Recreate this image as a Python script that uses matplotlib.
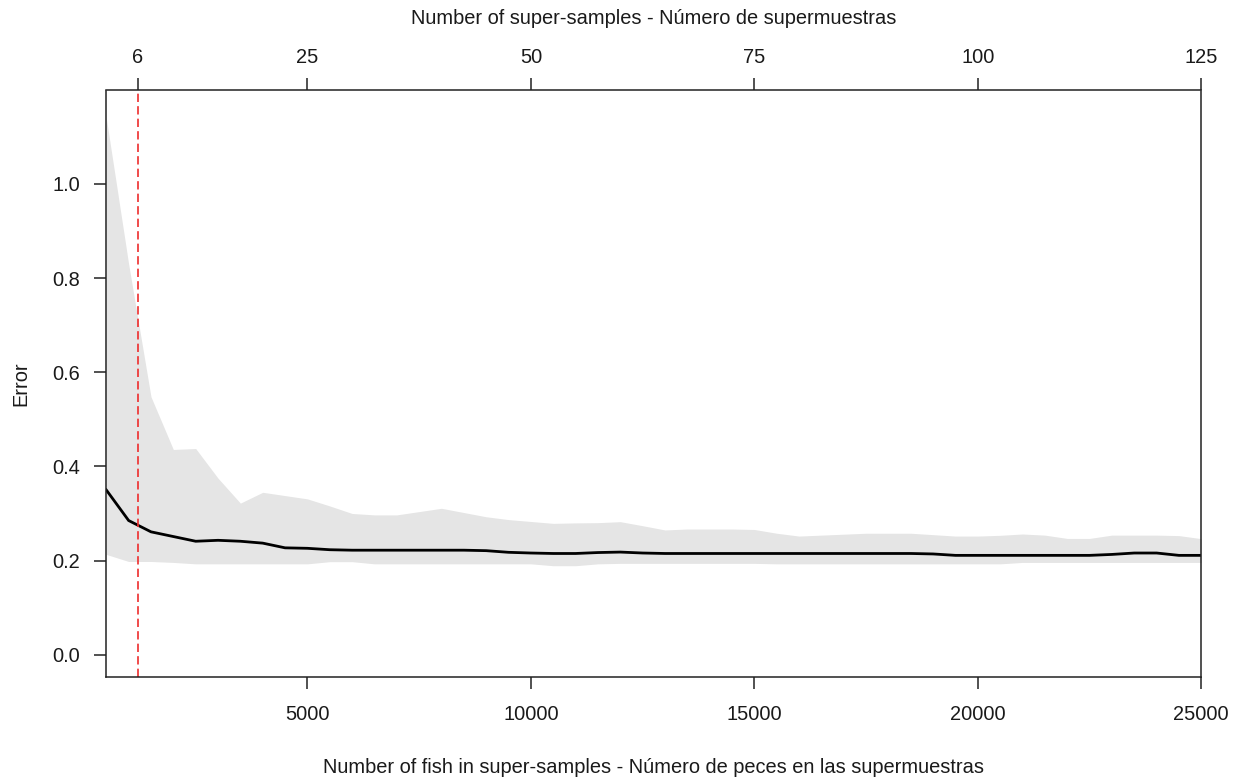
import numpy as np
import matplotlib.pyplot as plt

plt.rcParams['font.family'] = ['Liberation Sans', 'DejaVu Sans']

# number of fish pooled in the super-samples (200 fish per super-sample)
fish = [500, 1000, 1500, 2000, 2500, 3000, 3500, 4000, 4500, 5000,
        5500, 6000, 6500, 7000, 7500, 8000, 8500, 9000, 9500, 10000,
        10500, 11000, 11500, 12000, 12500, 13000, 13500, 14000, 14500, 15000,
        15500, 16000, 16500, 17000, 17500, 18000, 18500, 19000, 19500, 20000,
        20500, 21000, 21500, 22000, 22500, 23000, 23500, 24000, 24500, 25000]

err_mean = [0.350, 0.285, 0.261, 0.251, 0.241, 0.243, 0.241, 0.237, 0.227, 0.226,
            0.223, 0.222, 0.222, 0.222, 0.222, 0.222, 0.222, 0.221, 0.2175, 0.216,
            0.215, 0.215, 0.217, 0.218, 0.216, 0.215, 0.215, 0.215, 0.215, 0.215,
            0.215, 0.215, 0.215, 0.215, 0.215, 0.215, 0.215, 0.214, 0.211, 0.211,
            0.211, 0.211, 0.211, 0.211, 0.211, 0.213, 0.216, 0.216, 0.211, 0.211]

err_upper = [1.140, 0.830, 0.548, 0.436, 0.438, 0.375, 0.322, 0.345, 0.338, 0.331,
             0.316, 0.300, 0.297, 0.297, 0.304, 0.311, 0.302, 0.293, 0.287, 0.283,
             0.279, 0.280, 0.2805, 0.2826, 0.274, 0.265, 0.267, 0.267, 0.267, 0.266,
             0.258, 0.252, 0.254, 0.256, 0.258, 0.258, 0.258, 0.255, 0.252, 0.252,
             0.2536, 0.2564, 0.254, 0.247, 0.247, 0.254, 0.254, 0.254, 0.253, 0.2465]

err_lower = [0.213, 0.198, 0.198, 0.196, 0.193, 0.193, 0.193, 0.193, 0.193, 0.193,
             0.1976, 0.1976, 0.193, 0.193, 0.193, 0.193, 0.193, 0.193, 0.193, 0.193,
             0.189, 0.189, 0.193, 0.194, 0.194, 0.194, 0.194, 0.194, 0.194, 0.194,
             0.193, 0.193, 0.193, 0.193, 0.193, 0.193, 0.193, 0.193, 0.193, 0.193,
             0.193, 0.196, 0.196, 0.196, 0.196, 0.196, 0.196, 0.196, 0.196, 0.196]

fish_per_ss = 200
chosen_ss = 6
top_ticks = [6, 25, 50, 75, 100, 125]
bottom_ticks = [5000, 10000, 15000, 20000, 25000]
y_ticks = [0.0, 0.2, 0.4, 0.6, 0.8, 1.0]

W, H = 1238, 778
fig = plt.figure(figsize=(W / 100, H / 100), dpi=100)
ax = fig.add_axes([106.3 / W, 1 - 677 / H, (1201.3 - 106.3) / W, (677 - 90.5) / H])

ax.fill_between(fish, err_lower, err_upper, color='#e5e5e5', linewidth=0)
ax.plot(fish, err_mean, color='black', linewidth=2.0, solid_joinstyle='miter')
ax.axvline(chosen_ss * fish_per_ss, color='#ee2c2c', linewidth=1.2,
           linestyle=(0, (5, 2.5)))

ax.set_xlim(500, 25000)
ax.set_ylim(-0.0474, 1.1986)
ax.set_xticks(bottom_ticks)
ax.set_xticklabels([str(t) for t in bottom_ticks])
ax.set_yticks(y_ticks)
ax.set_yticklabels(['%.1f' % t for t in y_ticks])

for s in ax.spines.values():
    s.set_linewidth(1.1)
    s.set_color('#222222')
ax.spines['top'].set_visible(False)
ax.tick_params(axis='x', direction='out', length=8.6, width=1.1, color='#222222',
               pad=11.5, labelsize=14.4, labelcolor='#1a1a1a')
ax.tick_params(axis='y', direction='out', length=8.6, width=1.1, color='#222222',
               pad=10.3, labelsize=14.4, labelcolor='#1a1a1a')

# super-sample count on the top axis
top = ax.secondary_xaxis('top', functions=(lambda x: x / fish_per_ss,
                                           lambda n: n * fish_per_ss))
top.set_xticks(top_ticks)
top.set_xticklabels([str(t) for t in top_ticks])
top.spines['top'].set_linewidth(1.1)
top.spines['top'].set_color('#222222')
top.tick_params(direction='out', length=8.3, width=1.1, color='#222222',
                pad=8.7, labelsize=14.4, labelcolor='#1a1a1a')
top.set_xlabel('Number of super-samples - Número de supermuestras', fontsize=14.4,
               color='#1a1a1a', labelpad=17)

ax.set_xlabel('Number of fish in super-samples - Número de peces en las supermuestras',
              fontsize=14.4, color='#1a1a1a')
ax.xaxis.set_label_coords(0.5, -0.138)
ax.set_ylabel('Error', fontsize=14.4, color='#1a1a1a')
ax.yaxis.set_label_coords(-0.0695, 0.5)

fig.savefig('out.png', dpi=100)
